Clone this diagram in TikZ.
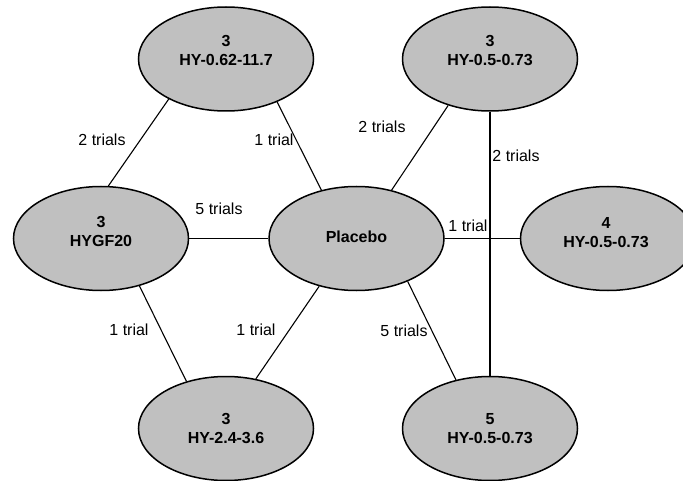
\documentclass[tikz,border=0pt]{standalone}
\usepackage{fontspec}
\setmainfont{Liberation Sans}
\usetikzlibrary{shapes.geometric}
\definecolor{bubgray}{RGB}{192,192,192}
\begin{document}
\begin{tikzpicture}[x=1pt,y=-1pt,
  bub/.style={ellipse, draw=black, line width=1.5pt, fill=bubgray,
    minimum width=175pt, minimum height=104pt, inner sep=0pt},
  btxt/.style={font=\bfseries\fontsize{16}{19}\selectfont, align=center, inner sep=0pt},
  lab/.style={font=\fontsize{16}{19}\selectfont, inner sep=0pt},
  conn/.style={line width=1.1pt}]
\useasboundingbox (0,0) rectangle (683,481);
% ellipses
\node[bub] (tl) at (226,59) {};
\node[bub] (tr) at (490,59) {};
\node[bub] (hy) at (101,238.5) {};
\node[bub] (pl) at (356.5,238.5) {};
\node[bub] (rt) at (608,238.5) {};
\node[bub] (bl) at (226,428.5) {};
\node[bub] (br) at (490,428.5) {};
% texts
\node[btxt] (tlt) at (226,50.5) {3\\HY-0.62-11.7};
\node[btxt] (trt) at (490,50.5) {3\\HY-0.5-0.73};
\node[btxt] (hyt) at (101,231.5) {3\\HYGF20};
\node[btxt] (plt) at (356.5,237) {Placebo};
\node[btxt] (rtt) at (606,232.5) {4\\HY-0.5-0.73};
\node[btxt] (blt) at (226,428.5) {3\\HY-2.4-3.6};
\node[btxt] (brt) at (490,428.5) {5\\HY-0.5-0.73};
% connectors
\draw[conn] (tl.-145.2) -- (hy.82.3);
\draw[conn] (tl.-40.2) -- (pl.126.6);
\draw[conn] (hy.east) -- (pl.west);
\draw[conn] (hy.-51.5) -- (bl.130);
\draw[conn] (pl.-128.4) -- (bl.59.5);
\draw[conn] (pl.54.7) -- (tr.-132.5);
\draw[conn] (tr.south) -- (br.north);
\draw[conn] (pl.east) -- (rt.west);
\draw[conn] (pl.-40.7) -- (br.125);
% labels
\node[lab] (l1) at (102,140) {2 trials};
\node[lab] (l2) at (274,140) {1 trial};
\node[lab] (l3) at (219,209) {5 trials};
\node[lab] (l4) at (382,127) {2 trials};
\node[lab] (l5) at (516,156) {2 trials};
\node[lab] (l6) at (468,226) {1 trial};
\node[lab] (l7) at (129,330) {1 trial};
\node[lab] (l8) at (256,330) {1 trial};
\node[lab] (l9) at (404,331) {5 trials};
\end{tikzpicture}
\end{document}
